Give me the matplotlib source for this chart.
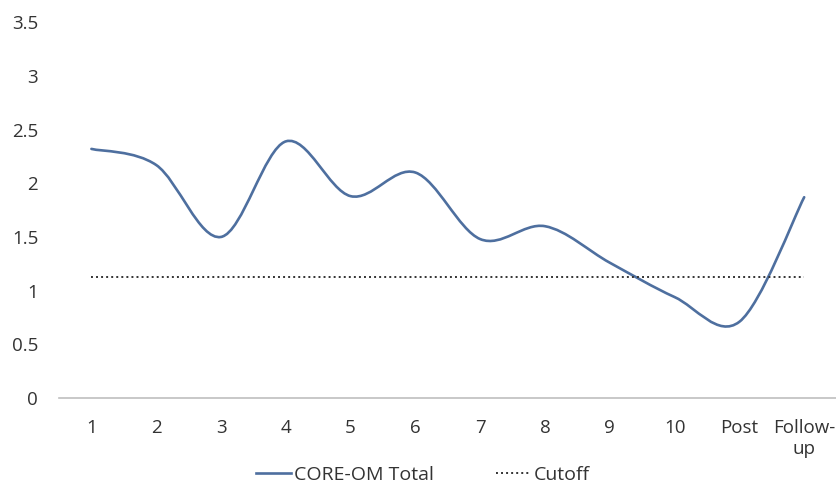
import matplotlib
matplotlib.use('Agg')
import matplotlib.pyplot as plt
from matplotlib.path import Path
from matplotlib.patches import PathPatch
from matplotlib.lines import Line2D
import numpy as np

# Data
sessions = ['1', '2', '3', '4', '5', '6', '7', '8', '9', '10', 'Post', 'Follow-\nup']
core_om = [2.32, 2.17, 1.50, 2.39, 1.88, 2.10, 1.48, 1.60, 1.26, 0.94, 0.71, 1.87]
cutoff = 1.13

line_color = '#4e6f9f'
text_color = '#333333'
plt.rcParams['font.family'] = ['Open Sans', 'DejaVu Sans']

fig = plt.figure(figsize=(8.37, 4.83), dpi=100)
ax = fig.add_axes([0.0705, 0.176, 0.929, 0.778])

x = np.arange(len(sessions))
y = np.array(core_om)

# Excel-like smoothed line: Catmull-Rom style cubic Beziers through the points
verts = [(x[0], y[0])]
codes = [Path.MOVETO]
n = len(x)
for i in range(n - 1):
    p0 = np.array([x[max(i - 1, 0)], y[max(i - 1, 0)]])
    p1 = np.array([x[i], y[i]])
    p2 = np.array([x[i + 1], y[i + 1]])
    p3 = np.array([x[min(i + 2, n - 1)], y[min(i + 2, n - 1)]])
    c1 = p1 + (p2 - p0) / 6
    c2 = p2 - (p3 - p1) / 6
    verts += [tuple(c1), tuple(c2), tuple(p2)]
    codes += [Path.CURVE4] * 3
ax.add_patch(PathPatch(Path(verts, codes), fill=False, edgecolor=line_color,
                       lw=1.9, capstyle='round', joinstyle='round'))

ax.plot([x[0], x[-1]], [cutoff, cutoff], color=text_color, lw=1.4,
        linestyle=(0, (1, 1.6)))

ax.set_xlim(-0.5, len(sessions) - 0.5)
ax.set_ylim(0, 3.5)
ax.set_yticks(np.arange(0, 3.51, 0.5))
ax.set_yticklabels(['0', '0.5', '1', '1.5', '2', '2.5', '3', '3.5'])
ax.set_xticks(x)
ax.set_xticklabels(sessions, linespacing=1.2)
ax.tick_params(axis='both', length=0, labelsize=13.5, colors=text_color)
ax.tick_params(axis='x', pad=15)
ax.tick_params(axis='y', pad=15)

for s in ['top', 'right', 'left']:
    ax.spines[s].set_visible(False)
ax.spines['bottom'].set_color('#bfbfbf')
ax.spines['bottom'].set_linewidth(1.2)

handles = [Line2D([], [], color=line_color, lw=1.9),
           Line2D([], [], color=text_color, lw=1.4, linestyle=(0, (1, 1.6)))]
fig.legend(handles, ['CORE-OM Total', 'Cutoff'], loc='center',
           bbox_to_anchor=(0.505, 0.017), ncol=2, frameon=False,
           fontsize=14, handlelength=1.8, handletextpad=0.15,
           columnspacing=3.2, labelcolor=text_color)

fig.savefig('out.png', dpi=100)
